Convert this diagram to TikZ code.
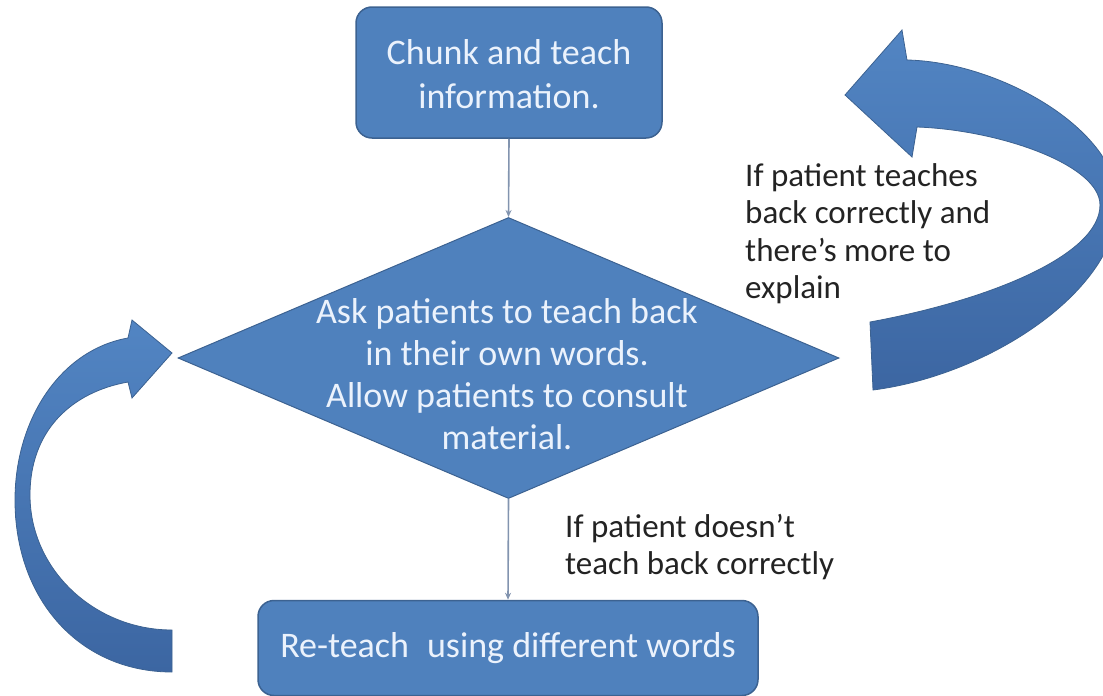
\documentclass[tikz,border=0pt]{standalone}
\usepackage{fontspec}
\setmainfont{Carlito}
\usetikzlibrary{shapes.geometric,arrows.meta}
\definecolor{boxblue}{RGB}{79,129,189}
\definecolor{boxedge}{RGB}{60,98,145}
\definecolor{linkgray}{RGB}{130,148,175}
\definecolor{arrtop}{RGB}{82,133,195}
\definecolor{arrbot}{RGB}{60,102,162}
\definecolor{annot}{RGB}{35,35,35}
\definecolor{boxtext}{RGB}{235,242,252}
\begin{document}
\begin{tikzpicture}[x=1pt,y=-1pt,
  stepbox/.style={draw=boxedge, line width=1.5pt, fill=boxblue, rounded corners=16pt, inner sep=0pt},
  boxlabel/.style={text=boxtext, font=\fontsize{36}{44}\selectfont, align=center, inner sep=0pt},
  decision/.style={diamond, draw=boxedge, line width=1pt, fill=boxblue, inner sep=0pt, minimum width=661pt, minimum height=281pt},
  note/.style={text=annot, font=\fontsize{33}{37.5}\selectfont, align=left, anchor=north west, inner sep=0pt},
  link/.style={draw=linkgray, line width=1.6pt, -{Stealth[length=7pt,width=6pt]}},
  bigarrow/.style={top color=arrtop, bottom color=arrbot, draw=boxedge, line width=0.8pt}]
\useasboundingbox (0,0) rectangle (1103,696);

% nodes
\node[stepbox, minimum width=306pt, minimum height=131pt] (top) at (509,72.5) {};
\node[boxlabel] (toptext) at (509,74) {Chunk and teach\\information.};

\node[decision] (dia) at (508.5,358) {};
\node[boxlabel, font=\fontsize{36}{42}\selectfont] (diatext) at (507,374) {Ask patients to teach back\\in their own words.\\Allow patients to consult\\material.};

\node[stepbox, minimum width=500pt, minimum height=95pt] (bot) at (508,648) {};
\node[boxlabel] (bottext) at (508,648) {Re-teach\hspace{0.5em}using different words};

% connectors
\draw[link] (top.south) -- (dia.north);
\draw[link] (dia.south) -- (bot.north);

% notes
\node[note] (noteR) at (745,163) {If patient teaches\\back correctly and\\there's more to\\explain};
\node[note] (noteB) at (565,514) {If patient doesn't\\teach back correctly};

% curved arrows
\begin{scope}
\clip (0,0) rectangle (1103,696);
\path[bigarrow] (845,95) -- (902,30) -- (907,60)
  .. controls (1000,62) and (1118,130) .. (1118,203)
  .. controls (1118,290) and (990,375) .. (873,390)
  -- (870,322)
  .. controls (990,300) and (1100,255) .. (1100,205)
  .. controls (1100,165) and (1000,130) .. (917,127)
  -- (912,157) -- cycle;
\path[bigarrow] (172,353) -- (132,320) -- (128,338)
  .. controls (60,350) and (15,420) .. (15,500)
  .. controls (15,600) and (80,672) .. (172,672)
  -- (172,630)
  .. controls (95,630) and (30,570) .. (30,495)
  .. controls (30,430) and (72,392) .. (128,382)
  -- (132,398) -- cycle;
\end{scope}
\end{tikzpicture}
\end{document}
